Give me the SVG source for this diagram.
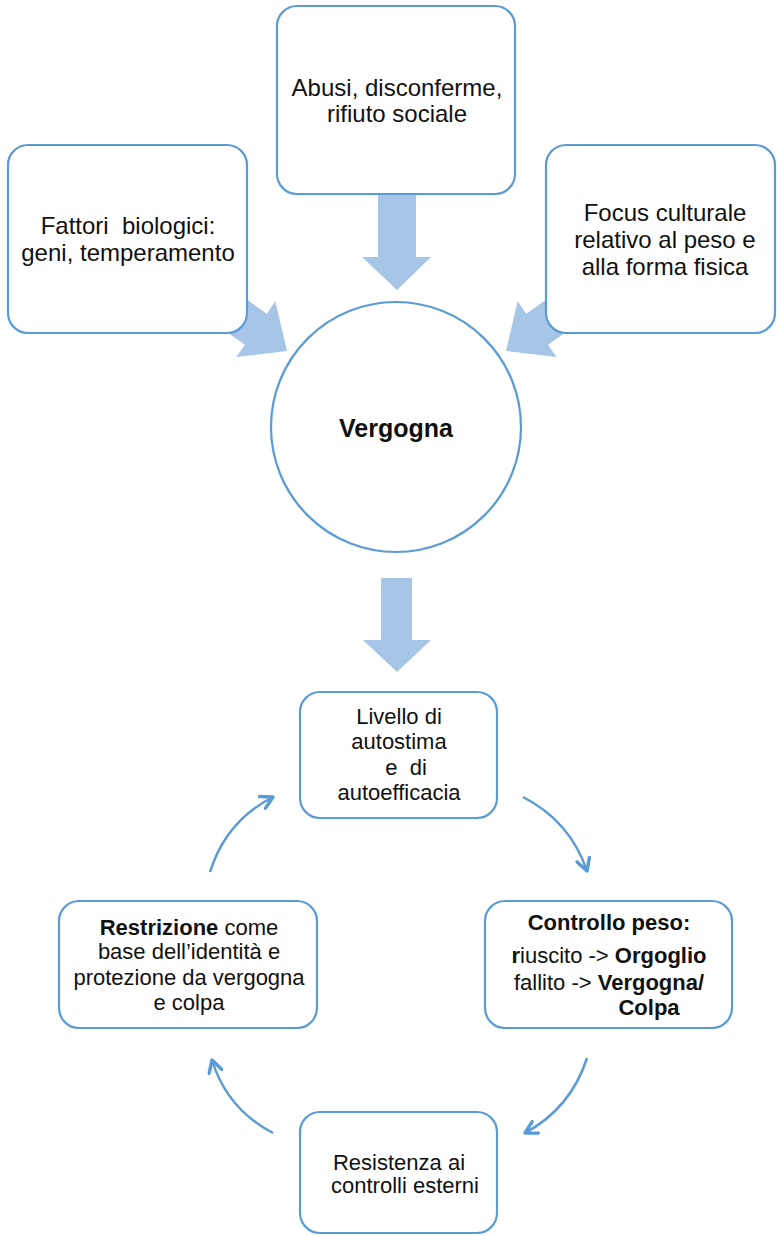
<svg xmlns="http://www.w3.org/2000/svg" width="777" height="1236" viewBox="0 0 777 1236">
<style>
.box{fill:#fff;stroke:#5B9BD5;stroke-width:2.2}
.blk{fill:#A7C5E6}
.t{font-family:"Liberation Sans",Arial,sans-serif;fill:#111;text-anchor:middle}
.big{font-size:24px}
.sm{font-size:22px}
.b{font-weight:bold}
.cyc{fill:none;stroke:#5B9BD5;stroke-width:2.5;marker-end:url(#ah)}
</style>
<defs>
<marker id="ah" viewBox="0 0 12 12" refX="10" refY="6" markerWidth="16" markerHeight="16" markerUnits="userSpaceOnUse" orient="auto">
<path d="M1,1 L10,6 L1,11" fill="none" stroke="#5B9BD5" stroke-width="2.6" stroke-linecap="round" stroke-linejoin="round"/>
</marker>
<polygon id="diag" points="0,0 -38,-34 -38,-19 -110,-19 -110,19 -38,19 -38,34"/>
</defs>

<g id="connectors">
<use href="#diag" class="blk" transform="translate(287,351) rotate(35)"/>
<use href="#diag" class="blk" transform="translate(506,351) rotate(145)"/>
<polygon class="blk" points="378,190 416,190 416,257 431,257 397,290 362,257 378,257"/>
<polygon class="blk" points="381,578 412,578 412,640 431,640 397,672 363,640 381,640"/>
<path class="cyc" d="M210,872 Q226,821 273,797"/>
<path class="cyc" d="M523,797 Q570,821 587,871"/>
<path class="cyc" d="M587,1058 Q571,1108 525,1133"/>
<path class="cyc" d="M273,1133 Q227,1109 212,1060"/>
</g>

<g id="n-biologici">
<rect class="box" x="8" y="145" width="239" height="188" rx="20"/>
<text class="t big" xml:space="preserve" x="128" y="234">Fattori  biologici:</text>
<text class="t big" x="128" y="261">geni, temperamento</text>
</g>

<g id="n-abusi">
<rect class="box" x="277" y="6" width="238" height="188" rx="20"/>
<text class="t big" x="397" y="96">Abusi, disconferme,</text>
<text class="t big" x="397" y="122">rifiuto sociale</text>
</g>

<g id="n-focus">
<rect class="box" x="546" y="145" width="229" height="188" rx="20"/>
<text class="t big" x="665" y="221">Focus culturale</text>
<text class="t big" x="665" y="248">relativo al peso e</text>
<text class="t big" x="665" y="275">alla forma fisica</text>
</g>

<g id="n-vergogna">
<circle class="box" cx="396" cy="427" r="125"/>
<text class="t b" style="font-size:25px" x="396" y="437">Vergogna</text>
</g>

<g id="n-autostima">
<rect class="box" x="300" y="692" width="197" height="126" rx="20"/>
<text class="t sm" x="399" y="724">Livello di</text>
<text class="t sm" x="399" y="749">autostima</text>
<text class="t sm" xml:space="preserve" x="406" y="775">e  di</text>
<text class="t sm" x="399" y="800">autoefficacia</text>
</g>

<g id="n-controllo">
<rect class="box" x="485" y="901" width="247" height="127" rx="20"/>
<text class="t sm b" x="609" y="930">Controllo peso:</text>
<text class="t sm" x="609" y="963"><tspan class="b">r</tspan>iuscito -&gt; <tspan class="b">Orgoglio</tspan></text>
<text class="t sm" x="609" y="990">fallito -&gt; <tspan class="b">Vergogna/</tspan></text>
<text class="t sm b" x="649" y="1015">Colpa</text>
</g>

<g id="n-resistenza">
<rect class="box" x="300" y="1112" width="197" height="121" rx="20"/>
<text class="t sm" x="399" y="1170">Resistenza ai</text>
<text class="t sm" x="405" y="1193">controlli esterni</text>
</g>

<g id="n-restrizione">
<rect class="box" x="59" y="901" width="258" height="127" rx="20"/>
<text class="t sm" x="189" y="935"><tspan class="b">Restrizione</tspan> come</text>
<text class="t sm" x="189" y="959">base dell’identità e</text>
<text class="t sm" x="189" y="985">protezione da vergogna</text>
<text class="t sm" x="189" y="1010">e colpa</text>
</g>
</svg>
